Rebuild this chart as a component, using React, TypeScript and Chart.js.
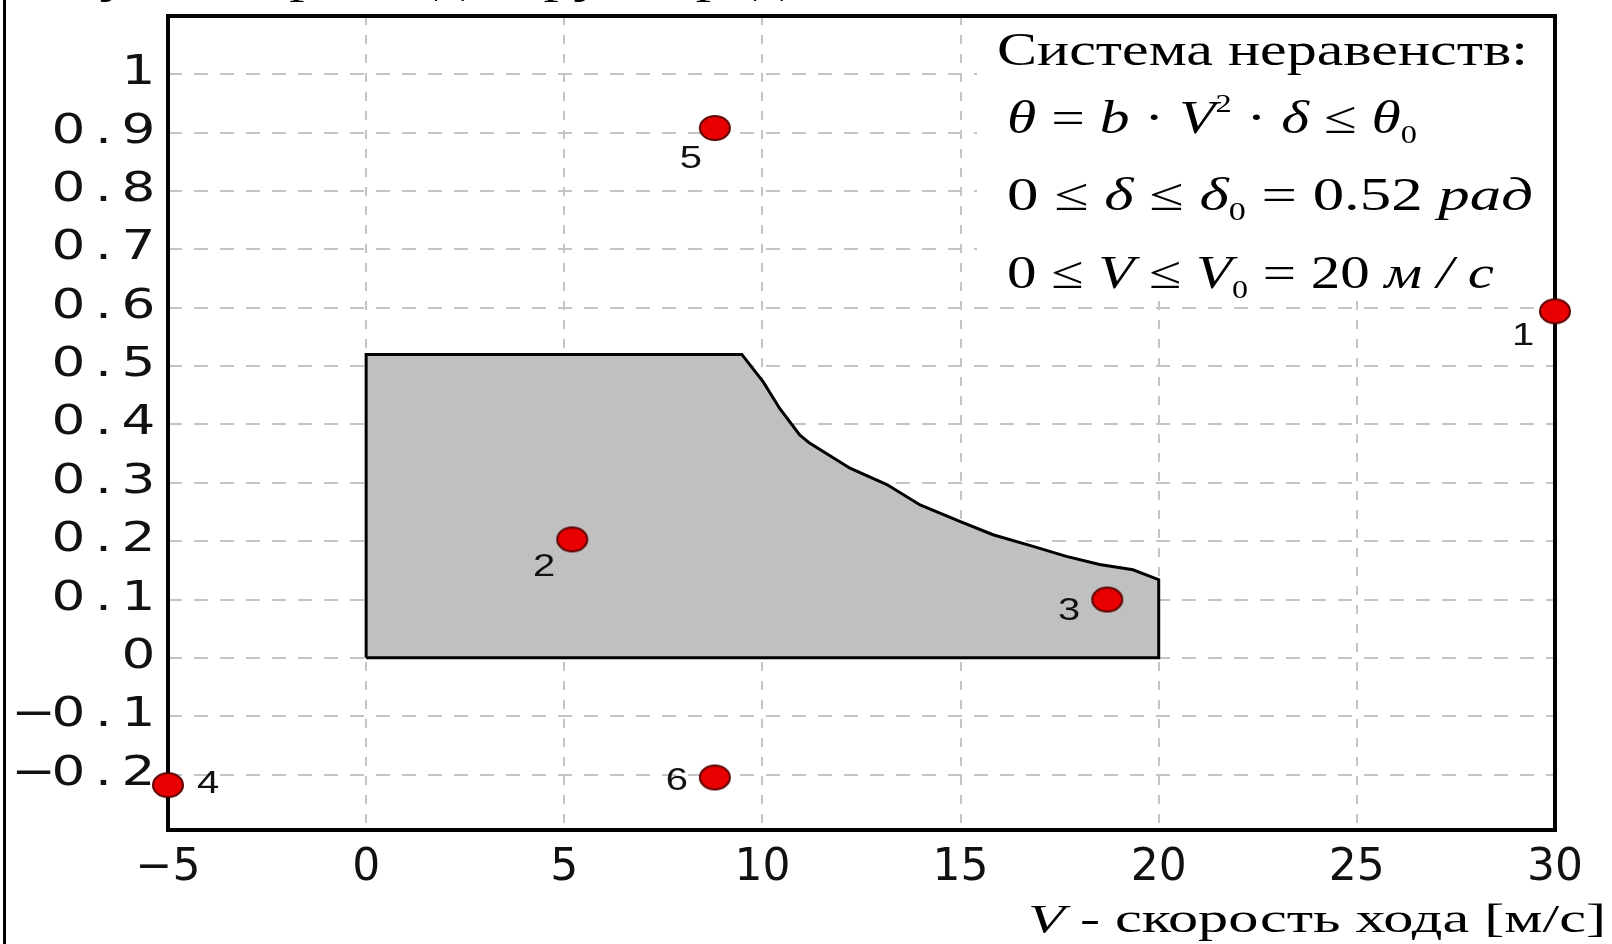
import React, { useEffect, useRef } from 'react';
import { Chart, registerables } from 'chart.js';

Chart.register(...registerables);

// Axis tick labels
const xTickLabels = ['−5', '0', '5', '10', '15', '20', '25', '30'];
const yTickLabels = ['−0.2', '−0.1', '0', '0.1', '0.2', '0.3', '0.4', '0.5', '0.6', '0.7', '0.8', '0.9', '1'];

// Boundary of the admissible region: V [m/s] vs δ [rad]
const regionV = [0, 0, 9.48, 10.02, 10.44, 10.94, 11.19, 12.21, 13.14, 13.98, 14.98, 15.82, 16.83, 17.67, 18.51, 19.35, 20, 20, 0];
const regionDelta = [0, 0.52, 0.52, 0.473, 0.427, 0.382, 0.368, 0.325, 0.297, 0.262, 0.234, 0.211, 0.191, 0.174, 0.16, 0.151, 0.134, 0, 0];

// Test points
const pointNames = ['1', '2', '3', '4', '5', '6'];
const pointV = [30, 5.2, 18.7, -5, 8.8, 8.8];
const pointDelta = [0.594, 0.203, 0.1, -0.218, 0.908, -0.205];

// Label placement relative to each marker (px)
const pointLabelOffsets: [number, number][] = [[-32, 25], [-28, 28], [-38, 12], [40, -1], [-24, 31], [-38, 4]];

type Run = { t: string; i?: boolean; sub?: boolean; sup?: boolean };

const SERIF = '"Liberation Serif", "DejaVu Serif", serif';
const SANS_TICK = '"DejaVu Sans", sans-serif';
const SANS_LABEL = '"Liberation Sans", Arial, sans-serif';

function runFont(r: Run, size: number, family: string) {
  const s = r.sub || r.sup ? Math.round(size * 0.55) : size;
  return `${r.i ? 'italic ' : ''}${s}px ${family}`;
}

// Draws a row of styled text runs, stretched horizontally to the given width
function drawRuns(ctx: CanvasRenderingContext2D, runs: Run[], x: number, baseline: number, size: number, width: number, family: string) {
  let total = 0;
  const widths = runs.map((r) => {
    ctx.font = runFont(r, size, family);
    const w = ctx.measureText(r.t).width;
    total += w;
    return w;
  });
  const sx = width / total;
  ctx.save();
  ctx.translate(x, baseline);
  ctx.scale(sx, 1);
  ctx.textAlign = 'left';
  ctx.textBaseline = 'alphabetic';
  let cx = 0;
  runs.forEach((r, k) => {
    ctx.font = runFont(r, size, family);
    const dy = r.sub ? size * 0.22 : r.sup ? -size * 0.45 : 0;
    ctx.fillText(r.t, cx, dy);
    cx += widths[k];
  });
  ctx.restore();
}

const systemLines: { runs: Run[]; x: number; y: number; w: number }[] = [
  { runs: [{ t: 'Система неравенств:' }], x: 997, y: 65, w: 531 },
  {
    runs: [
      { t: 'θ', i: true }, { t: ' = ' }, { t: 'b', i: true }, { t: ' · ' }, { t: 'V', i: true }, { t: '2', sup: true },
      { t: ' · ' }, { t: 'δ', i: true }, { t: ' ≤ ' }, { t: 'θ', i: true }, { t: '0', sub: true },
    ],
    x: 1007, y: 133, w: 410,
  },
  {
    runs: [
      { t: '0 ≤ ' }, { t: 'δ', i: true }, { t: ' ≤ ' }, { t: 'δ', i: true }, { t: '0', sub: true },
      { t: ' = 0.52 ' }, { t: 'рад', i: true },
    ],
    x: 1007, y: 210, w: 526,
  },
  {
    runs: [
      { t: '0 ≤ ' }, { t: 'V', i: true }, { t: ' ≤ ' }, { t: 'V', i: true }, { t: '0', sub: true },
      { t: ' = 20 ' }, { t: 'м / с', i: true },
    ],
    x: 1007, y: 288, w: 487,
  },
];

const decorPlugin = {
  id: 'decor',
  beforeDatasetsDraw(chart: any) {
    const { ctx, chartArea: a, scales } = chart;
    ctx.save();

    // outer frame line on the left
    ctx.fillStyle = '#000';
    ctx.fillRect(3, 0, 3, 944);

    // white panel behind the inequality system
    ctx.fillStyle = '#fff';
    ctx.fillRect(977, a.top, a.right - 977, 298 - a.top);

    ctx.fillStyle = '#000';
    systemLines.forEach((l) => drawRuns(ctx, l.runs, l.x, l.y, 46, l.w, SERIF));

    // axis titles
    drawRuns(ctx, [{ t: 'V', i: true }, { t: ' - скорость хода [м/с]' }], 1028, 932, 40, 578, SERIF);
    drawRuns(ctx, [{ t: 'δ', i: true }, { t: ' - угол перекладки руля [рад]' }], 20, -7, 40, 785, SERIF);

    // x tick labels
    ctx.fillStyle = '#111';
    ctx.font = `44px ${SANS_TICK}`;
    ctx.textAlign = 'center';
    ctx.textBaseline = 'alphabetic';
    xTickLabels.forEach((lab) => {
      const px = scales.x.getPixelForValue(Number(lab.replace('−', '-')));
      ctx.fillText(lab, px, 880);
    });

    // y tick labels, fixed-width character cells
    ctx.font = `41px ${SANS_TICK}`;
    const cell = 35;
    yTickLabels.forEach((lab) => {
      const py = scales.y.getPixelForValue(Number(lab.replace('−', '-')));
      const chars = Array.from(lab);
      chars.forEach((ch, k) => {
        const cx = 156 - (chars.length - k - 0.5) * cell;
        ctx.save();
        ctx.translate(cx, py + 10);
        ctx.scale(1.3, 1);
        ctx.fillText(ch, 0, 0);
        ctx.restore();
      });
    });

    // plot frame
    ctx.strokeStyle = '#000';
    ctx.lineWidth = 4;
    ctx.strokeRect(a.left, a.top, a.right - a.left, a.bottom - a.top);
    ctx.restore();
  },
  afterDatasetsDraw(chart: any) {
    const { ctx, scales } = chart;
    ctx.save();
    ctx.fillStyle = '#111';
    ctx.font = `32px ${SANS_LABEL}`;
    ctx.textAlign = 'center';
    ctx.textBaseline = 'middle';
    pointNames.forEach((name, i) => {
      const px = scales.x.getPixelForValue(pointV[i]);
      const py = scales.y.getPixelForValue(pointDelta[i]);
      const [dx, dy] = pointLabelOffsets[i];
      ctx.save();
      ctx.translate(px + dx, py + dy);
      ctx.scale(1.25, 1);
      ctx.fillText(name, 0, 0);
      ctx.restore();
    });
    ctx.restore();
  },
};

function makeMarker(): HTMLCanvasElement {
  const c = document.createElement('canvas');
  c.width = 34;
  c.height = 28;
  const g = c.getContext('2d')!;
  g.beginPath();
  g.ellipse(17, 14, 15, 12, 0, 0, Math.PI * 2);
  g.fillStyle = '#e80000';
  g.fill();
  g.lineWidth = 2;
  g.strokeStyle = '#5a0000';
  g.stroke();
  return c;
}

export default function App() {
  const canvasRef = useRef<HTMLCanvasElement | null>(null);

  useEffect(() => {
    if (!canvasRef.current) return;
    const marker = makeMarker();
    const chart = new Chart(canvasRef.current, {
      type: 'scatter',
      data: {
        datasets: [
          {
            label: 'Точки',
            data: pointV.map((v, i) => ({ x: v, y: pointDelta[i] })),
            pointStyle: marker as any,
            pointRadius: 15,
            clip: false as any,
            order: 0,
          },
          {
            label: 'Область',
            data: regionV.map((v, i) => ({ x: v, y: regionDelta[i] })),
            showLine: true,
            fill: 'shape' as any,
            backgroundColor: '#c0c0c0',
            borderColor: '#000',
            borderWidth: 3,
            borderJoinStyle: 'miter',
            pointRadius: 0,
            tension: 0,
            order: 1,
          },
        ],
      },
      options: {
        responsive: false,
        animation: false,
        devicePixelRatio: 1,
        events: [],
        layout: { padding: { left: 168, right: 57, top: 12, bottom: 114 } },
        plugins: {
          legend: { display: false },
          tooltip: { enabled: false },
          title: { display: false },
        },
        scales: {
          x: {
            type: 'linear',
            min: -5,
            max: 30,
            ticks: { stepSize: 5, display: false, includeBounds: false },
            grid: { color: '#c4c4c4', lineWidth: 2, drawTicks: false, borderDash: [9, 10] } as any,
            border: { display: false, dash: [9, 10] },
            afterFit(s: any) { s.height = 0; },
          },
          y: {
            type: 'linear',
            min: -0.295,
            max: 1.1,
            ticks: { stepSize: 0.1, display: false, includeBounds: false },
            grid: { color: '#c4c4c4', lineWidth: 2, drawTicks: false, borderDash: [14, 12] } as any,
            border: { display: false, dash: [14, 12] },
            afterFit(s: any) { s.width = 0; },
          },
        },
      },
      plugins: [decorPlugin],
    });
    return () => chart.destroy();
  }, []);

  return (
    <div style={{ position: 'absolute', left: 0, top: 0, width: 1612, height: 944, background: '#fff' }}>
      <canvas ref={canvasRef} width={1612} height={944} style={{ display: 'block' }} />
    </div>
  );
}
